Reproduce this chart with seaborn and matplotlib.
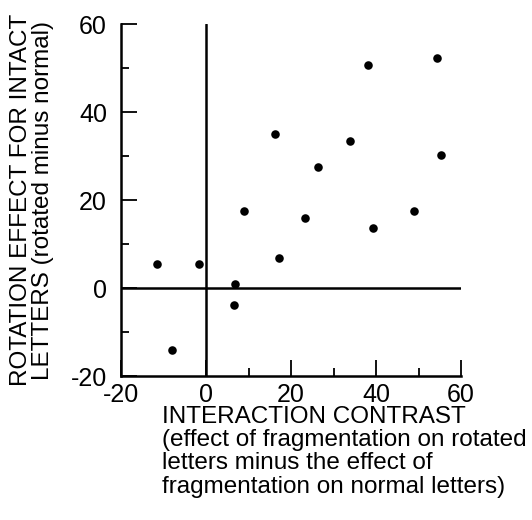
import seaborn as sns
import numpy as np
import matplotlib.pyplot as plt
from matplotlib.ticker import FixedLocator

# Data
interaction_contrast = [-11.6, -8.1, -1.6, 6.9, 6.7, 8.9, 16.3, 17.1,
                        23.4, 26.4, 33.8, 38.0, 39.2, 49.0, 54.3, 55.3]
rotation_effect = [5.4, -14.0, 5.5, 0.8, -3.9, 17.4, 34.9, 6.9,
                   16.0, 27.5, 33.3, 50.7, 13.7, 17.6, 52.3, 30.3]
x_ticks = [-20, 0, 20, 40, 60]
y_ticks = [-20, 0, 20, 40, 60]

sns.set_style('ticks')
plt.rcParams['font.family'] = ['Liberation Sans', 'DejaVu Sans']
plt.rcParams['axes.unicode_minus'] = False
plt.rcParams['text.color'] = 'black'

fig = plt.figure(figsize=(5.32, 5.2), dpi=100)
ax = fig.add_axes([121 / 532, 1 - 376 / 520, 340 / 532, 352 / 520])

sns.scatterplot(x=interaction_contrast, y=rotation_effect, color='black',
                s=38, linewidth=0, ax=ax)

ax.axhline(0, color='black', lw=1.8, zorder=1)
ax.axvline(0, color='black', lw=1.8, zorder=1)

ax.set_xlim(-20, 60)
ax.set_ylim(-20, 60)
ax.set_xticks(x_ticks)
ax.set_yticks(y_ticks)
ax.xaxis.set_minor_locator(FixedLocator([10, 30, 50]))
ax.yaxis.set_minor_locator(FixedLocator([-10, 10, 30, 50]))
ax.tick_params(which='major', direction='in', length=11.5, width=1.3,
               labelsize=18, color='black', labelcolor='black')
ax.tick_params(axis='x', which='major', pad=5)
ax.tick_params(axis='y', which='major', pad=10)
ax.tick_params(which='minor', direction='in', length=6, width=1.3, color='black')

for side in ['top', 'right']:
    ax.spines[side].set_visible(False)
for side in ['left', 'bottom']:
    ax.spines[side].set_linewidth(1.8)
    ax.spines[side].set_color('black')

fig.text(162 / 532, 1 - 406 / 520,
         'INTERACTION CONTRAST\n'
         '(effect of fragmentation on rotated\n'
         'letters minus the effect of\n'
         'fragmentation on normal letters)',
         ha='left', va='top', fontsize=17.5, linespacing=1.07)

fig.text(21 / 532, 1 - 200 / 520, 'ROTATION EFFECT FOR INTACT',
         rotation=90, ha='center', va='center', fontsize=17.5)
fig.text(43 / 532, 1 - 200 / 520, 'LETTERS (rotated minus normal)',
         rotation=90, ha='center', va='center', fontsize=17.5)

fig.savefig('out.png', dpi=100)
